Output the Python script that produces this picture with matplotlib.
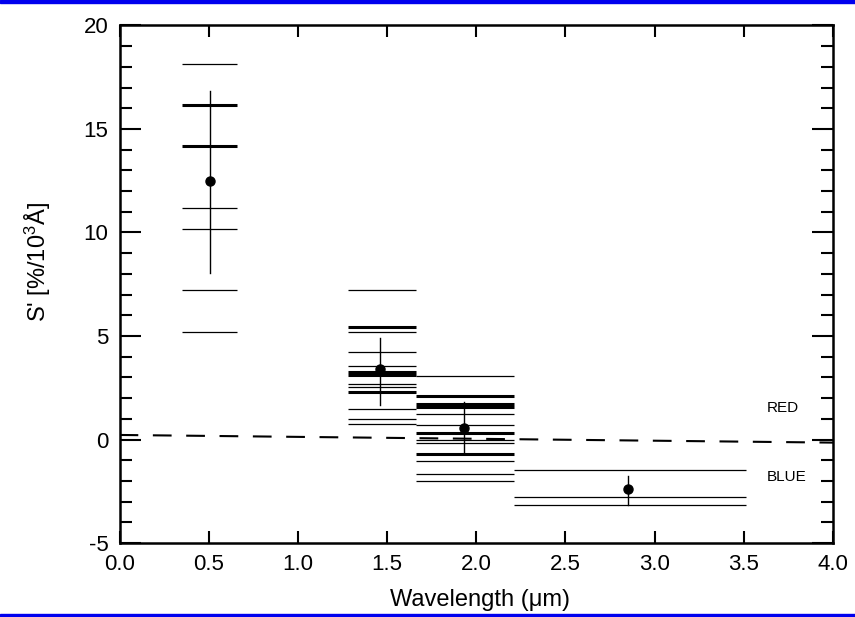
import matplotlib
matplotlib.use('Agg')
import matplotlib.pyplot as plt
from matplotlib.patches import Rectangle
from matplotlib.ticker import MultipleLocator, FormatStrFormatter

plt.rcParams['font.family'] = ['Liberation Sans', 'DejaVu Sans']
plt.rcParams['axes.unicode_minus'] = False
plt.rcParams['mathtext.fontset'] = 'custom'
plt.rcParams['mathtext.rm'] = 'Liberation Sans'
plt.rcParams['mathtext.it'] = 'Liberation Sans'

# band edges (wavelength, um)
bands = [(0.35, 0.66), (1.28, 1.66), (1.66, 2.21), (2.21, 3.51)]

# individual measurements in each band: (value, thick?)
band1 = [(18.13, 0), (16.14, 1), (14.16, 1), (11.18, 0), (10.19, 0), (7.21, 0), (5.2, 0)]
band2 = [(7.21, 0), (5.43, 1), (5.18, 0), (4.24, 0), (3.54, 0), (3.25, 1), (3.1, 1),
         (2.7, 0), (2.55, 0), (2.3, 1), (1.46, 0), (0.98, 0), (0.76, 0)]
band3 = [(3.05, 0), (2.1, 1), (1.71, 1), (1.56, 1), (1.23, 0), (0.71, 0), (0.32, 1),
         (-0.02, 0), (-0.18, 0), (-0.72, 1), (-1.02, 0), (-1.66, 0), (-1.98, 0)]
band4 = [(-1.47, 0), (-2.76, 0), (-3.15, 0)]
measurements = [band1, band2, band3, band4]

# mean points with error bars
mean_x = [0.51, 1.46, 1.93, 2.85]
mean_y = [12.47, 3.39, 0.57, -2.41]
err_lo = [8.06, 1.66, -0.69, -3.16]
err_hi = [16.84, 4.89, 1.79, -1.76]

# red/blue divide line
div_x = [0.0, 4.0]
div_y = [0.22, -0.15]

fig = plt.figure(figsize=(8.55, 6.17), dpi=100)
ax = fig.add_axes([0.1398, 0.1199, 0.8345, 0.8388])

for (x0, x1), vals in zip(bands, measurements):
    for v, thick in vals:
        ax.plot([x0, x1], [v, v], color='black', lw=2.2 if thick else 0.9,
                solid_capstyle='butt')

for x, y, lo, hi in zip(mean_x, mean_y, err_lo, err_hi):
    ax.plot([x, x], [lo, hi], color='black', lw=1.0)
    ax.plot(x, y, 'o', color='black', markersize=6.5)

ax.plot(div_x, div_y, color='black', lw=1.5, linestyle=(0, (9, 7)))

ax.text(3.63, 1.52, 'RED', fontsize=11, va='center')
ax.text(3.63, -1.81, 'BLUE', fontsize=11, va='center')

ax.set_xlim(0, 4)
ax.set_ylim(-5, 20)
ax.xaxis.set_major_locator(MultipleLocator(0.5))
ax.yaxis.set_major_locator(MultipleLocator(5))
ax.yaxis.set_minor_locator(MultipleLocator(1))
ax.xaxis.set_major_formatter(FormatStrFormatter('%.1f'))
ax.tick_params(axis='both', which='both', direction='in', top=True, right=True,
               width=1.5, labelsize=16)
ax.tick_params(axis='x', which='major', length=8.5, pad=8)
ax.tick_params(axis='y', which='major', length=15, pad=8)
ax.tick_params(axis='y', which='minor', length=8.5)
for s in ax.spines.values():
    s.set_linewidth(1.8)

ax.set_xlabel('Wavelength (μm)', fontsize=17, va='center')
ax.xaxis.set_label_coords(0.505, -0.110)
ax.set_ylabel(r"S' [%/10$^{3}$Å]", fontsize=17, va='center')
ax.yaxis.set_label_coords(-0.114, 0.543)

# blue frame bands of the original image
fig.patches.append(Rectangle((0, 1 - 3 / 617), 1, 3 / 617, transform=fig.transFigure,
                             color='#0000ee', zorder=10))
fig.patches.append(Rectangle((0, 0), 1, 3 / 617, transform=fig.transFigure,
                             color='#0000ee', zorder=10))

fig.savefig('out.png', dpi=100)
plt.close(fig)
